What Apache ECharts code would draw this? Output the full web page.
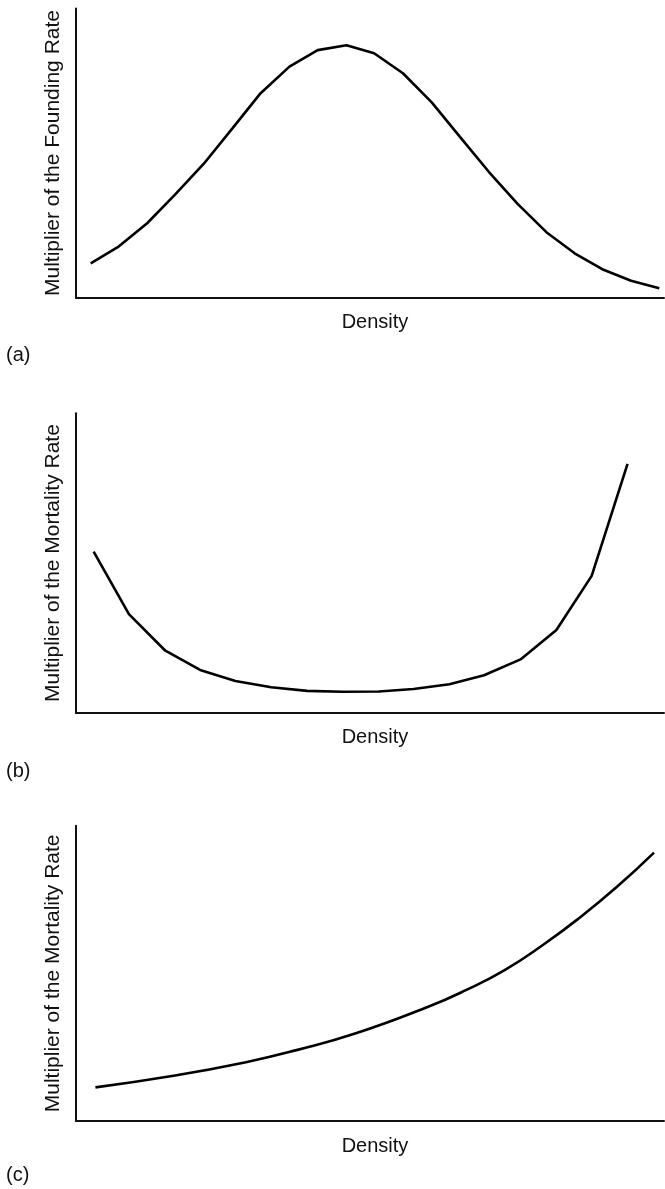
<!DOCTYPE html>
<html>
<head>
<meta charset="utf-8">
<script src="https://cdn.jsdelivr.net/npm/echarts@6/dist/echarts.min.js"></script>
<style>
html,body{margin:0;padding:0;background:#fff;}
#chart{width:665px;height:1189px;}
</style>
</head>
<body>
<div id="chart"></div>
<script>
// Panel (a): founding-rate multiplier vs density
var densityA = [2.5, 7.1, 12.1, 16.8, 21.7, 26.6, 31.4, 36.3, 41.1, 46.0, 50.7, 55.6, 60.5, 65.3, 70.2, 75.1, 80.0, 84.8, 89.5, 94.4, 99.2];
var foundingA = [11.8, 17.4, 25.7, 35.5, 46.2, 58.5, 70.7, 79.9, 85.6, 87.3, 84.5, 77.6, 67.5, 55.6, 43.5, 32.4, 22.6, 15.3, 9.8, 5.8, 3.2];
// Panel (b): U-shaped mortality multiplier
var densityB = [3.0, 9.0, 15.2, 21.1, 27.1, 33.2, 39.3, 45.3, 51.5, 57.4, 63.5, 69.4, 75.6, 81.7, 87.7, 93.8];
var mortalityB = [53.8, 32.9, 20.7, 14.3, 10.6, 8.5, 7.3, 7.0, 7.1, 7.9, 9.5, 12.5, 17.8, 27.6, 45.7, 83.1];
// Panel (c): rising mortality multiplier
var densityC = [3.3, 16.6, 28.9, 37.5, 47.6, 59.9, 66.4, 72.9, 79.4, 85.5, 92.0, 98.3];
var mortalityC = [11.4, 15.3, 19.9, 24.0, 29.7, 38.7, 44.4, 51.1, 59.6, 68.6, 79.3, 90.9];

var yNames = ['Multiplier of the Founding Rate', 'Multiplier of the Mortality Rate', 'Multiplier of the Mortality Rate'];
var xName = 'Density';
var panelLabels = ['(a)', '(b)', '(c)'];

function zip(xs, ys) { return xs.map(function (x, i) { return [x, ys[i]]; }); }

var FONT = '"Liberation Sans", Arial, Helvetica, sans-serif';
var grids = [
  { left: 76, top: 8.5, width: 588, height: 289 },
  { left: 76, top: 413.3, width: 588, height: 299.4 },
  { left: 76, top: 825.7, width: 588, height: 295.3 }
];
var labelCenterY = [357, 773, 1177];

var axisLine = { show: true, lineStyle: { color: '#111', width: 2 } };
var xAxes = [], yAxes = [], series = [], graphics = [];
var datasets = [zip(densityA, foundingA), zip(densityB, mortalityB), zip(densityC, mortalityC)];
for (var i = 0; i < 3; i++) {
  xAxes.push({
    type: 'value', gridIndex: i, min: 0, max: 100,
    axisLine: axisLine, axisTick: { show: false }, axisLabel: { show: false }, splitLine: { show: false },
    name: xName, nameLocation: 'middle', nameGap: 15,
    nameTextStyle: { fontFamily: FONT, fontSize: 20, color: '#111', padding: [0, 0, 0, 10] }
  });
  yAxes.push({
    type: 'value', gridIndex: i, min: 0, max: 100,
    axisLine: axisLine, axisTick: { show: false }, axisLabel: { show: false }, splitLine: { show: false },
    name: yNames[i], nameLocation: 'middle', nameGap: 12,
    nameTextStyle: { fontFamily: FONT, fontSize: 21, color: '#111' }
  });
  series.push({
    type: 'line', xAxisIndex: i, yAxisIndex: i, data: datasets[i],
    smooth: i === 2, symbol: 'none',
    lineStyle: { color: '#000', width: 2.6 }
  });
  graphics.push({
    type: 'text', left: 6, top: labelCenterY[i] - 12,
    style: { text: panelLabels[i], font: '20px ' + FONT, fill: '#111' }
  });
}

var chart = echarts.init(document.getElementById('chart'), null, { renderer: 'canvas' });
chart.setOption({
  animation: false,
  backgroundColor: '#fff',
  grid: grids,
  xAxis: xAxes,
  yAxis: yAxes,
  series: series,
  graphic: graphics
});
</script>
</body>
</html>
